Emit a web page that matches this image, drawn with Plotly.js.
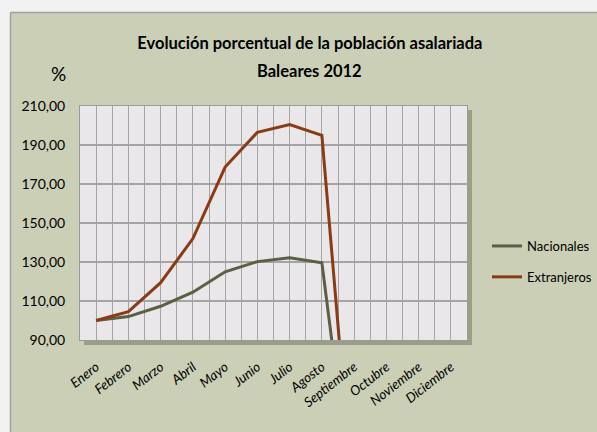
<!DOCTYPE html>
<html><head><meta charset="utf-8">
<script src="https://cdn.plot.ly/plotly-3.0.1.min.js"></script>
<style>html,body{margin:0;padding:0;background:#f2f2f2;}#chart{width:597px;height:432px;}</style>
</head><body><div id="chart"></div>
<script>
const months = ["Enero","Febrero","Marzo","Abril","Mayo","Junio","Julio","Agosto","Septiembre","Octubre","Noviembre","Diciembre"];
const nacionales = [100, 102, 107.3, 114.5, 125, 130.2, 132.2, 129.6, 0, null, null, null];
const extranjeros = [100, 104.5, 119.4, 142, 178.7, 196.5, 200.5, 195, 0, null, null, null];
const yTicks = [90, 110, 130, 150, 170, 190, 210];
const yTickText = yTicks.map(v => v.toFixed(2).replace('.', ','));
const idx = months.map((m, i) => i);

const font = "Lato, Liberation Sans, sans-serif";
const traces = [
  {x: idx, y: nacionales, name: "Nacionales", legendgroup: "a", mode: "lines", line: {color: "#5b5f43", width: 3}},
  {x: idx, y: extranjeros, name: "Extranjeros", legendgroup: "b", mode: "lines", line: {color: "#8b3b14", width: 3}}
];
const layout = {
  width: 597, height: 432,
  margin: {l: 80, r: 130, t: 106, b: 92},
  paper_bgcolor: "#cacfb5",
  plot_bgcolor: "#e9e7e9",
  font: {family: font, size: 13, color: "#000"},
  title: {text: "<b>Evolución porcentual de la población asalariada</b>", x: 0.594, xref: "paper", xanchor: "center", y: 1 - 43/432, yref: "container", yanchor: "middle", font: {family: font, size: 16.5, color: "#000"}},
  xaxis: {range: [-0.5, 11.5], tickvals: idx, ticktext: months, tickangle: -38, showgrid: true, gridcolor: "#a4a4a4", gridwidth: 1,
          minor: {dtick: 0.5, tick0: -0.5, showgrid: true, gridcolor: "#a4a4a4", gridwidth: 1},
          tickfont: {family: font, size: 13.5, style: "italic"}, showline: true, linecolor: "#9a9a9a", mirror: true, zeroline: false, ticks: "", ticklabelstandoff: 13, fixedrange: true, automargin: false},
  yaxis: {range: [90, 210], tickvals: yTicks, ticktext: yTickText, showgrid: true, gridcolor: "#a4a4a4", gridwidth: 1.5,
          tickfont: {family: font, size: 14}, showline: true, linecolor: "#9a9a9a", mirror: true, zeroline: false, ticks: "", ticklabelstandoff: 11, automargin: false},
  showlegend: true,
  legend: {xref: "container", yref: "container", x: 487/597, y: 1 - 231/432, xanchor: "left", yanchor: "top", bgcolor: "rgba(0,0,0,0)", font: {family: font, size: 13}, tracegroupgap: 11, itemwidth: 30},
  annotations: [
    {text: "<b>Baleares 2012</b>", xref: "paper", yref: "paper", x: 0.594, y: (340-71)/234, xanchor: "center", yanchor: "middle", showarrow: false, font: {family: font, size: 16.5, color: "#000"}},
    {text: "%", xref: "paper", yref: "paper", x: (58-80)/387, y: (340-73)/234, xanchor: "center", yanchor: "middle", showarrow: false, font: {family: font, size: 19, color: "#000"}}
  ],
  shapes: [
    {type: "rect", xref: "paper", yref: "paper", x0: -80/387, x1: 520/387, y0: (340-12)/234, y1: 340/234, fillcolor: "#f2f2f2", line: {width: 0}, layer: "below"},
    {type: "rect", xref: "paper", yref: "paper", x0: -80/387, x1: (10-80)/387, y0: -92/234, y1: 340/234, fillcolor: "#f2f2f2", line: {width: 0}, layer: "below"},
    {type: "line", xref: "paper", yref: "paper", x0: (10.5-80)/387, x1: 520/387, y0: (340-12.5)/234, y1: (340-12.5)/234, line: {color: "#a0a0a0", width: 1.5}, layer: "below"},
    {type: "line", xref: "paper", yref: "paper", x0: (10.5-80)/387, x1: (10.5-80)/387, y0: -92/234, y1: (340-12.5)/234, line: {color: "#a0a0a0", width: 1.5}, layer: "below"},
    {type: "rect", xref: "paper", yref: "paper", x0: 4/387, x1: 392/387, y0: -5/234, y1: 0, fillcolor: "#9a9f88", line: {width: 0}, layer: "below"},
    {type: "rect", xref: "paper", yref: "paper", x0: 1, x1: 392/387, y0: -5/234, y1: 230/234, fillcolor: "#9a9f88", line: {width: 0}, layer: "below"}
  ]
};
Plotly.newPlot("chart", traces, layout, {displayModeBar: false, staticPlot: true});
</script>
</body></html>
